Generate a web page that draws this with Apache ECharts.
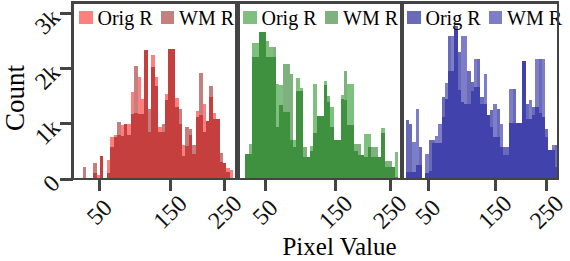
<!DOCTYPE html>
<html><head><meta charset="utf-8">
<script src="https://cdn.jsdelivr.net/npm/echarts@6/dist/echarts.min.js"></script>
<style>html,body{margin:0;padding:0;background:#fff}#c{width:570px;height:261px}
#c path{shape-rendering:crispEdges}</style>
</head><body><div id="c"></div>
<script>
// ---- data (histogram counts per bin, 48 bins per panel) ----
const binCount = 48;
const legendNames = ['Orig R', 'WM R'];
const xTickLabels = ['50', '150', '250'];
const yTickValues = [0, 1000, 2000, 3000];
const yTickLabels = ['0', '1k', '2k', '3k'];
const xAxisTitle = 'Pixel Value';
const yAxisTitle = 'Count';

const redOrig = [0,0,0,0,0,0,110,70,420,0,350,760,790,800,970,990,990,1570,1200,1850,1450,2340,850,2245,1850,940,850,1530,2350,2350,1470,990,610,600,790,460,1230,1150,1350,1050,1480,1200,1090,300,290,190,160,0];
const redWM   = [0,0,0,220,0,0,290,0,420,0,100,570,760,1030,775,990,800,1180,2050,1180,1180,2340,1270,2020,1675,850,990,1430,2350,2350,1300,1270,420,940,900,610,1120,1910,850,1050,1675,1090,1090,470,290,120,10,0];

const greenOrig = [0,0,450,640,2460,2460,2650,2650,2500,2390,2210,1710,1700,1210,1210,700,700,1830,1650,400,400,600,1710,1130,1130,1770,1400,1310,700,700,1510,1420,1710,1710,500,430,430,820,820,400,400,400,920,220,220,220,490,0];
const greenWM   = [0,0,450,450,2200,2200,2650,2650,2200,2210,2390,940,1330,2080,2080,1900,580,1590,1590,580,400,500,830,1130,1130,1690,1500,940,700,700,1450,1960,970,970,640,640,430,400,580,580,580,400,830,320,320,220,40,0];

const blueOrig = [0,1060,1000,130,250,580,0,100,700,700,650,650,1480,1450,2590,1960,2770,2290,1390,1360,1960,1750,1670,2170,1480,1360,1150,1250,760,1270,580,580,580,1010,1630,1010,1010,2140,1350,1090,1300,1300,2170,1120,910,520,520,610];
const blueWM   = [0,130,130,670,1260,250,0,450,150,650,770,1000,1120,1730,1960,2590,2700,1610,2580,2580,1360,1590,2170,1670,1360,1890,1150,940,1350,760,990,430,430,1630,1010,1010,1010,2140,1090,1420,1150,2170,1200,2170,760,520,610,220];

// ---- layout / style ----
const FONT = 'Liberation Serif';
const AX = '#444';
const yMax = 3190;
const xTickPos = [7.8, 28.5, 44.5]; // tick positions in bin units
const panels = [
  { left: 72.7, width: 164, legendLeft: 79, orig: redOrig, wm: redWM,
    cOrig: 'rgba(255,0,0,0.5)', cWM: 'rgba(139,0,0,0.5)' },
  { left: 238.7, width: 163, legendLeft: 243, orig: greenOrig, wm: greenWM,
    cOrig: 'rgba(0,128,0,0.5)', cWM: 'rgba(0,100,0,0.5)' },
  { left: 402.7, width: 162.3, legendLeft: 407, orig: blueOrig, wm: blueWM,
    cOrig: 'rgba(5,8,138,0.6)', cWM: 'rgba(38,38,163,0.6)' }
];
const gridTop = 2.5, gridHeight = 176.5;

const grid = [], xAxis = [], yAxis = [], series = [], legend = [];
panels.forEach((p, k) => {
  grid.push({ left: p.left, top: gridTop, width: p.width, height: gridHeight,
    show: true, borderColor: AX, borderWidth: 2.5, backgroundColor: 'transparent', z: 5 });
  xAxis.push({
    type: 'value', gridIndex: k, min: 0, max: binCount,
    axisLine: { show: false }, splitLine: { show: false },
    axisTick: { show: true, customValues: xTickPos, length: 12, lineStyle: { color: AX, width: 2.7 } },
    axisLabel: { show: true, customValues: xTickPos, rotate: 45, align: 'center', verticalAlign: 'middle',
      margin: 33, fontSize: 24, fontFamily: FONT, color: '#111',
      formatter: v => {
        let best = 0;
        xTickPos.forEach((t, i) => { if (Math.abs(t - v) < Math.abs(xTickPos[best] - v)) best = i; });
        return xTickLabels[best];
      } }
  });
  yAxis.push({
    type: 'value', gridIndex: k, min: 0, max: yMax, show: k === 0,
    axisLine: { show: false }, splitLine: { show: false },
    axisTick: { show: k === 0, customValues: yTickValues, length: 13, lineStyle: { color: AX, width: 2.7 } },
    axisLabel: { show: k === 0, customValues: yTickValues, rotate: 45, align: 'right', verticalAlign: 'middle',
      padding: [0, 0, 8, 0], margin: 17, fontSize: 24, fontFamily: FONT, color: '#111',
      formatter: v => yTickLabels[yTickValues.indexOf(v)] }
  });
  const tag = '|' + k;
  [[p.orig, p.cOrig, legendNames[0]], [p.wm, p.cWM, legendNames[1]]].forEach(([arr, col, nm]) => {
    series.push({
      type: 'bar', name: nm + tag, xAxisIndex: k, yAxisIndex: k,
      data: arr.map((v, i) => [i + 0.5, v]),
      barWidth: '100%', barGap: '-100%',
      itemStyle: { color: col },
      silent: true, animation: false
    });
  });
  legend.push({
    left: p.legendLeft, top: 7.5, padding: 0, itemGap: 8,
    itemWidth: 13.5, itemHeight: 13, icon: 'rect', selectedMode: false,
    data: legendNames.map(n => n + tag),
    formatter: n => n.split('|')[0],
    textStyle: { fontSize: 20, fontFamily: FONT, color: '#000' }
  });
});

const chart = echarts.init(document.getElementById('c'), null, { renderer: 'svg' });
chart.setOption({
  animation: false,
  backgroundColor: '#fff',
  grid, xAxis, yAxis, series, legend,
  graphic: [
    { type: 'text', x: 339.5, y: 246.5, style: { text: xAxisTitle, fontSize: 25, fontFamily: FONT,
        fill: '#000', align: 'center', verticalAlign: 'middle' } },
    { type: 'text', x: 15, y: 98, rotation: Math.PI / 2, style: { text: yAxisTitle, fontSize: 27, fontFamily: FONT,
        fill: '#000', align: 'center', verticalAlign: 'middle' } }
  ]
});
</script></body></html>
